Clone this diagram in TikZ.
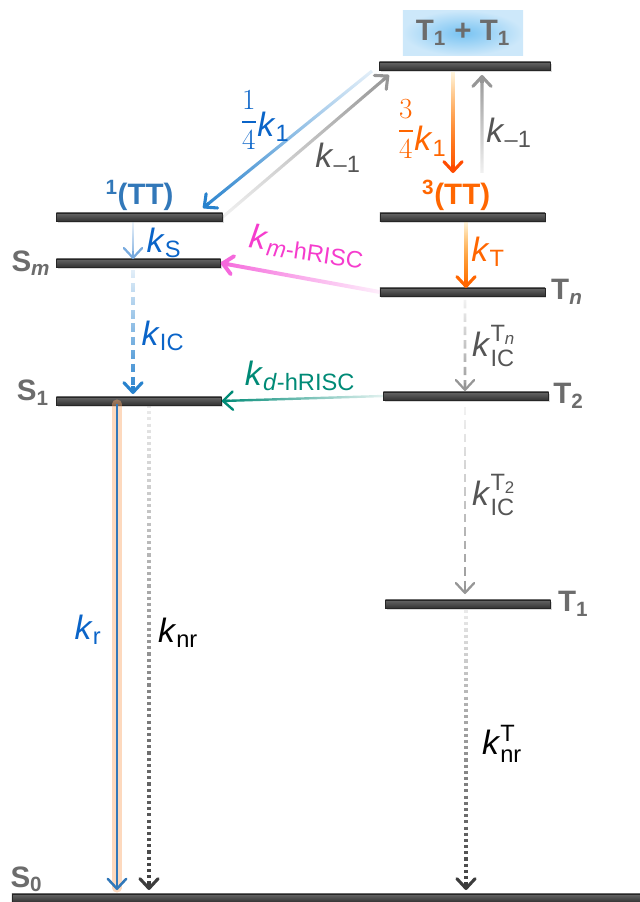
\documentclass[tikz,border=0pt]{standalone}
\usepackage{amsmath}
\usepackage{fontspec}
\setmainfont{Liberation Sans}
\usetikzlibrary{positioning}
\usetikzlibrary{arrows.meta}
\usetikzlibrary{calc}
\usetikzlibrary{fadings}
\usetikzlibrary{shadows}

\definecolor{levelgray}{RGB}{108,108,108}
\definecolor{rateblue}{RGB}{10,100,200}
\definecolor{ttblue}{RGB}{50,120,185}
\definecolor{arrowblue}{RGB}{40,130,205}
\definecolor{lightblue}{RGB}{120,170,222}
\definecolor{ttorange}{RGB}{255,102,0}
\definecolor{redorange}{RGB}{255,75,0}
\definecolor{paleyellow}{RGB}{255,205,40}
\definecolor{hrisc}{RGB}{245,60,205}
\definecolor{hriscarrow}{RGB}{245,105,220}
\definecolor{dteal}{RGB}{0,138,118}
\definecolor{backgray}{RGB}{85,85,85}
\definecolor{arrowgray}{RGB}{150,150,150}
\definecolor{dotgray}{RGB}{60,60,60}
\definecolor{glowin}{RGB}{120,195,242}
\definecolor{glowout}{RGB}{205,232,250}
\definecolor{glowpeach}{RGB}{250,170,110}

\tikzfading[name=fade top, top color=transparent!88, bottom color=transparent!0]
\tikzfading[name=fade start, top color=transparent!90, middle color=transparent!10, bottom color=transparent!0]
\tikzfading[name=fade late, top color=transparent!100, middle color=transparent!75, bottom color=transparent!0]
\tikzfading[name=fade bottom, top color=transparent!0, bottom color=transparent!88]
\tikzfading[name=fade right, left color=transparent!0, right color=transparent!90]

\begin{document}
\begin{tikzpicture}[
        x=0.025cm, y=-0.025cm,
        levelnode/.style={rectangle, inner sep=0pt, minimum height=6pt, draw=black!85, line width=0.4pt, top color=gray!80!black, bottom color=black!80, drop shadow={shadow xshift=1pt, shadow yshift=-1.5pt, opacity=0.3}},
        levellabel/.style={font=\fontsize{21}{24}\selectfont\bfseries, text=levelgray, inner sep=1pt},
        ratelabel/.style={font=\fontsize{24}{26}\selectfont, inner sep=0pt},
        shaft/.style={line width=2.2pt, shorten >=1pt},
        tip/.style={line width=2.2pt, solid, -{Straight Barb[round, length=7pt, width=13pt]}}
    ]

    \useasboundingbox (0,0) rectangle (639,902);

    \node [levelnode, minimum width=4.275cm] (TTpair) at (465,66) {};
    \node [levelnode, minimum width=4.15cm] (SingTT) at (139.5,217) {};
    \node [levelnode, minimum width=4.1cm] (Sm) at (138.5,263) {};
    \node [levelnode, minimum width=4.125cm] (S1) at (139,401) {};
    \node [levelnode, minimum width=15.95cm] (S0) at (331,898) {};
    \node [levelnode, minimum width=4.125cm] (TripTT) at (462.5,217) {};
    \node [levelnode, minimum width=4.125cm] (Tn) at (462.5,292) {};
    \node [levelnode, minimum width=4.125cm] (T2) at (466,396) {};
    \node [levelnode, minimum width=4.125cm] (T1) at (468,604) {};

    \node [levellabel, minimum width=3cm, minimum height=1.125cm, inner color=glowin, outer color=glowout] (TTpairlabel) at (463,33) {T$_\text{1}$ + T$_\text{1}$};
    \node [levellabel, text=ttblue, above=0pt of SingTT] (SingTTlabel) {$^\text{1}$(TT)};
    \node [levellabel, text=ttorange, above=0pt of TripTT, xshift=-4.5pt] (TripTTlabel) {$^\text{3}$(TT)};
    \node [levellabel, left=3pt of Sm] (Smlabel) {S$_{\textit{m}}$};
    \node [levellabel, left=4pt of S1, yshift=6pt] (S1label) {S$_\text{1}$};
    \node [levellabel, above right=0pt and -2pt of S0.north west] (S0label) {S$_\text{0}$};
    \node [levellabel, right=3pt of Tn] (Tnlabel) {T$_{\textit{n}}$};
    \node [levellabel, right=2pt of T2] (T2label) {T$_\text{2}$};
    \node [levellabel, right=4pt of T1] (T1label) {T$_\text{1}$};

    \draw [shaft, arrowblue, path fading=fade top] ($(TTpair)+(-93,5)$) -- ($(SingTT)+(63.5,-9)$);
    \draw [tip, arrowblue] ($(SingTT)+(69.7,-14)$) -- ($(SingTT)+(63.5,-9)$);
    \draw [shaft, arrowgray, path fading=fade bottom] (SingTT.east) -- ($(TTpair)+(-76,9)$);
    \draw [tip, arrowgray] ($(TTpair)+(-82.1,14.2)$) -- ($(TTpair)+(-76,9)$);
    \draw [shaft, paleyellow, path fading=fade top] ($(TTpair)+(-12,6)$) -- ($(TripTT)+(-9.5,-44)$);
    \draw [shaft, redorange, path fading=fade late] ($(TTpair)+(-12,6)$) -- ($(TripTT)+(-9.5,-44)$);
    \draw [tip, redorange] ($(TripTT)+(-9.5,-52)$) -- ($(TripTT)+(-9.5,-44)$);
    \draw [shaft, arrowgray, path fading=fade bottom] ($(TripTT)+(19.5,-44)$) -- ($(TTpair)+(17,9)$);
    \draw [tip, arrowgray] ($(TTpair)+(17,17)$) -- ($(TTpair)+(17,9)$);
    \draw [shaft, lightblue, line width=1.6pt, path fading=fade top] ($(SingTT)+(-6.5,5)$) -- ($(Sm)+(-5.5,-4)$);
    \draw [tip, lightblue, line width=1.6pt] ($(Sm)+(-5.5,-12)$) -- ($(Sm)+(-5.5,-4)$);
    \draw [shaft, paleyellow, path fading=fade top] ($(TripTT)+(3.5,5)$) -- ($(Tn)+(3.5,-4)$);
    \draw [shaft, ttorange, path fading=fade late] ($(TripTT)+(3.5,5)$) -- ($(Tn)+(3.5,-4)$);
    \draw [tip, ttorange] ($(Tn)+(3.5,-12)$) -- ($(Tn)+(3.5,-4)$);
    \draw [shaft, hriscarrow, line width=2.8pt, path fading=fade right] (Tn.west) -- (Sm.east);
    \draw [tip, hriscarrow, line width=2.8pt] ($(Sm.east)+(8,1.5)$) -- (Sm.east);
    \draw [shaft, arrowblue, dash pattern=on 6pt off 3.5pt, path fading=fade top] ($(Sm)+(-5.5,7)$) -- ($(S1)+(-6,-7)$);
    \draw [tip, arrowblue] ($(S1)+(-6,-15)$) -- ($(S1)+(-6,-7)$);
    \draw [shaft, dteal, line width=1.7pt, path fading=fade right] (T2.west) -- (S1.east);
    \draw [tip, dteal, line width=1.7pt] ($(S1.east)+(8,-0.25)$) -- (S1.east);
    \draw [shaft, arrowgray, line width=1.8pt, dash pattern=on 6pt off 3.5pt, path fading=fade top] ($(Tn)+(2.5,8)$) -- ($(T2)+(-1,-5)$);
    \draw [tip, arrowgray, line width=1.6pt] ($(T2)+(-1,-13)$) -- ($(T2)+(-1,-5)$);
    \draw [shaft, arrowgray, line width=1.8pt, dash pattern=on 6pt off 3.5pt, path fading=fade top] ($(T2)+(-1,11)$) -- ($(T1)+(-3,-10)$);
    \draw [tip, arrowgray, line width=1.6pt] ($(T1)+(-3,-18)$) -- ($(T1)+(-3,-10)$);
    \draw [line width=6.5pt, glowpeach, opacity=0.45, line cap=round] ($(S1)+(-22,3)$) -- ($(S0)+(-214,-10)$);
    \draw [shaft, ttblue, line width=1.8pt] ($(S1)+(-22,3)$) -- ($(S0)+(-214,-8)$);
    \draw [tip, ttblue, line width=1.8pt] ($(S0)+(-214,-16)$) -- ($(S0)+(-214,-8)$);
    \draw [shaft, dotgray, dash pattern=on 2.2pt off 2.2pt, path fading=fade start] ($(S1)+(10,4)$) -- ($(S0)+(-182,-8)$);
    \draw [tip, dotgray] ($(S0)+(-182,-16)$) -- ($(S0)+(-182,-8)$);
    \draw [shaft, dotgray, dash pattern=on 2.2pt off 2.2pt, path fading=fade start] ($(T1)+(-2,6)$) -- ($(S0)+(135,-8)$);
    \draw [tip, dotgray] ($(S0)+(135,-16)$) -- ($(S0)+(135,-8)$);

    \node [ratelabel, text=rateblue] (quarterk) at (265,120) {\raisebox{5pt}{\fontsize{21}{23}\selectfont$\dfrac{1}{4}$}\textit{k}$_\text{1}$};
    \node [ratelabel, text=backgray] (backdiag) at (338,158) {\textit{k}$_\text{\textendash 1}$};
    \node [ratelabel, text=ttorange] (threequarterk) at (422,129) {\raisebox{9pt}{\fontsize{21}{23}\selectfont$\dfrac{3}{4}$}\textit{k}$_\text{1}$};
    \node [ratelabel, text=backgray] (backvert) at (509,133) {\textit{k}$_\text{\textendash 1}$};
    \node [ratelabel, text=rateblue] (kS) at (164,243) {\textit{k}$_\text{S}$};
    \node [ratelabel, text=ttorange] (kT) at (488,252) {\textit{k}$_\text{T}$};
    \node [ratelabel, text=hrisc, rotate=-8] (kmh) at (307,246) {\textit{k}$_{\text{\textit{m}-hRISC}}$};
    \node [ratelabel, text=rateblue] (kIC) at (163,336) {\textit{k}$_\text{IC}$};
    \node [ratelabel, text=dteal] (kdh) at (300,376) {\textit{k}$_{\text{\textit{d}-hRISC}}$};
    \node [ratelabel, text=backgray] (kICTn) at (494,346) {\textit{k}$^{\text{T}_{\textit{n}}}_{\text{IC}}$};
    \node [ratelabel, text=backgray] (kICTtwo) at (494,495) {\textit{k}$^{\text{T}_\text{2}}_{\text{IC}}$};
    \node [ratelabel, text=rateblue] (kr) at (88,630) {\textit{k}$_\text{r}$};
    \node [ratelabel, text=black] (knr) at (178,633) {\textit{k}$_\text{nr}$};
    \node [ratelabel, text=black] (knrT) at (502,744) {\textit{k}$^\text{T}_\text{nr}$};

\end{tikzpicture}
\end{document}
